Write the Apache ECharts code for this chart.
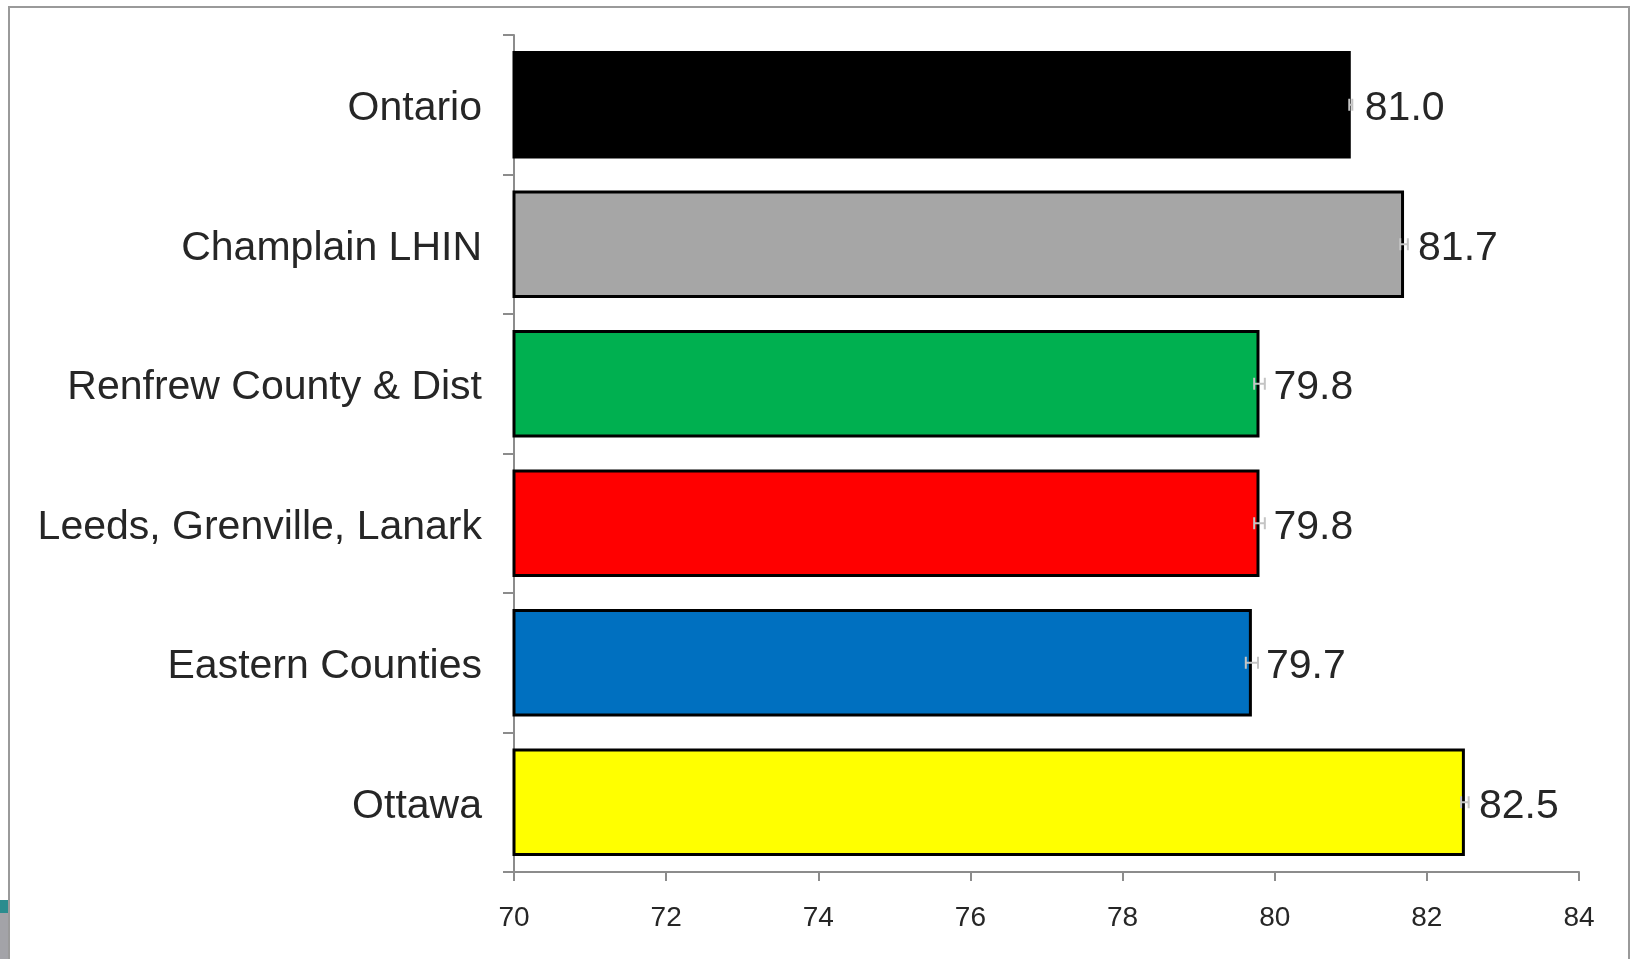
<!DOCTYPE html>
<html>
<head>
<meta charset="utf-8">
<title>Life expectancy by area</title>
<script src="https://cdn.jsdelivr.net/npm/echarts@6/dist/echarts.min.js"></script>
<style>
  html, body { margin: 0; padding: 0; background: #ffffff; }
  #chart { width: 1632px; height: 959px; }
</style>
</head>
<body>
<div id="chart"></div>
<script>
// Areas, top to bottom
const categories = ['Ontario', 'Champlain LHIN', 'Renfrew County & Dist', 'Leeds, Grenville, Lanark', 'Eastern Counties', 'Ottawa'];
// Estimated values
const values = [81.0, 81.7, 79.8, 79.8, 79.7, 82.5];
// Confidence interval bounds
const ciLow  = [80.98, 81.65, 79.73, 79.73, 79.62, 82.45];
const ciHigh = [81.02, 81.75, 79.87, 79.87, 79.78, 82.55];
// Bar fill colours
const barColors = ['#000000', '#a6a6a6', '#00b050', '#ff0000', '#0070c0', '#ffff00'];
// Value axis ticks
const xTicks = [70, 72, 74, 76, 78, 80, 82, 84];

const chart = echarts.init(document.getElementById('chart'), null, { renderer: 'canvas' });

const FONT = '"Liberation Sans", Arial, sans-serif';
const TEXT = '#262626';

const option = {
  backgroundColor: '#ffffff',
  animation: false,
  grid: { left: 514, right: 53, top: 35, bottom: 87 },
  xAxis: {
    type: 'value',
    min: xTicks[0],
    max: xTicks[xTicks.length - 1],
    interval: 2,
    axisLine: { show: true, lineStyle: { color: '#8c8c8c', width: 2 } },
    axisTick: { show: true, length: 9, lineStyle: { color: '#8c8c8c', width: 2 } },
    splitLine: { show: false },
    axisLabel: {
      margin: 32,
      color: TEXT,
      fontFamily: FONT,
      fontSize: 28
    }
  },
  yAxis: {
    type: 'category',
    inverse: true,
    data: categories,
    axisLine: { show: true, lineStyle: { color: '#8c8c8c', width: 2 } },
    axisTick: { show: true, length: 11, lineStyle: { color: '#8c8c8c', width: 2 } },
    axisLabel: {
      margin: 32,
      formatter: v => '{a|' + v + '}',
      rich: {
        a: {
          color: TEXT,
          fontFamily: FONT,
          fontSize: 41,
          padding: [8, 0, 0, 0]
        }
      }
    }
  },
  series: [
    {
      type: 'bar',
      barCategoryGap: '23%',
      data: values.map((v, i) => ({
        value: v,
        itemStyle: { color: barColors[i] }
      })),
      itemStyle: { borderColor: '#000000', borderWidth: 3 },
      label: {
        show: true,
        position: 'right',
        distance: 14,
        offset: [0, 4],
        color: TEXT,
        fontFamily: FONT,
        fontSize: 41,
        formatter: p => p.value.toFixed(1)
      },
      z: 2
    },
    {
      // Confidence interval whiskers at the end of each bar
      type: 'custom',
      data: categories.map((c, i) => [ciLow[i], ciHigh[i], i]),
      encode: { x: [0, 1], y: 2 },
      z: 5,
      renderItem: function (params, api) {
        const lo = api.coord([api.value(0), api.value(2)]);
        const hi = api.coord([api.value(1), api.value(2)]);
        const cap = 6;
        const style = { stroke: '#c4c4c4', lineWidth: 2, fill: null };
        return {
          type: 'group',
          children: [
            { type: 'line', shape: { x1: lo[0], y1: lo[1], x2: hi[0], y2: hi[1] }, style: style },
            { type: 'line', shape: { x1: lo[0], y1: lo[1] - cap, x2: lo[0], y2: lo[1] + cap }, style: style },
            { type: 'line', shape: { x1: hi[0], y1: hi[1] - cap, x2: hi[0], y2: hi[1] + cap }, style: style }
          ]
        };
      }
    }
  ],
  graphic: [
    {
      // Frame around the chart area
      type: 'polyline',
      shape: { points: [[9, 959], [9, 7], [1629, 7], [1629, 959]] },
      style: { stroke: '#9a9a9a', lineWidth: 2, fill: null },
      silent: true
    },
    {
      type: 'rect',
      shape: { x: 0, y: 900, width: 8, height: 13 },
      style: { fill: '#2b8c8e' },
      silent: true
    },
    {
      type: 'rect',
      shape: { x: 0, y: 913, width: 8, height: 46 },
      style: { fill: '#a3a3a8' },
      silent: true
    }
  ]
};

chart.setOption(option);
</script>
</body>
</html>
